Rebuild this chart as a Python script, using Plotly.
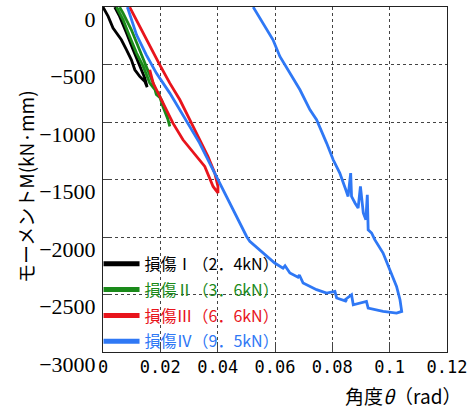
import plotly.graph_objects as go

# ---- data (rotation rad, moment kN·mm) ----
x_I = [0.0000, 0.0018, 0.0035, 0.0064, 0.0082, 0.0099, 0.0111, 0.0128, 0.0146, 0.0154,
       0.0146, 0.0128, 0.0105, 0.0082, 0.0058, 0.0041]
y_I = [0, -81, -183, -284, -371, -458, -545, -603, -647, -696,
       -618, -516, -371, -226, -81, 0]

x_II = [0.0047, 0.0070, 0.0093, 0.0117, 0.0140, 0.0163, 0.0186, 0.0204, 0.0221, 0.0233,
        0.0227, 0.0209, 0.0192, 0.0200, 0.0186, 0.0175, 0.0151, 0.0128, 0.0099, 0.0070, 0.0058]
y_II = [0, -110, -255, -400, -516, -661, -734, -806, -922, -1038,
        -980, -864, -734, -790, -760, -661, -516, -371, -197, -52, 0]

x_III = [0.0093, 0.0128, 0.0163, 0.0198, 0.0233, 0.0268, 0.0303, 0.0337, 0.0366, 0.0390,
         0.0401, 0.0401, 0.0384, 0.0355, 0.0340, 0.0314, 0.0279, 0.0244, 0.0215, 0.0192,
         0.0175, 0.0163]
y_III = [0, -168, -342, -502, -661, -806, -980, -1154, -1299, -1444,
         -1560, -1617, -1560, -1386, -1340, -1270, -1154, -1009, -864, -748,
         -661, -545]

x_IV = [0.0085, 0.0105, 0.0117, 0.0151, 0.0186, 0.0233, 0.0268, 0.0303, 0.0337, 0.0372,
        0.0401, 0.0431, 0.0466, 0.0501, 0.0512, 0.0558, 0.0599, 0.0628, 0.0635, 0.0652,
        0.0680, 0.0685, 0.0698, 0.0745, 0.0780, 0.0809, 0.0815, 0.0850, 0.0845, 0.0867,
        0.0873, 0.0919, 0.0925, 0.0977, 0.1024, 0.1042, 0.1036, 0.1024, 0.1001, 0.0977,
        0.0948, 0.0937, 0.0925, 0.0922, 0.0917, 0.0908, 0.0898, 0.0890, 0.0879, 0.0867,
        0.0864, 0.0855, 0.0847, 0.0826, 0.0803, 0.0780, 0.0745, 0.0722, 0.0687, 0.0652,
        0.0617, 0.0593, 0.0559, 0.0524]
y_IV = [0, -139, -241, -415, -574, -748, -893, -1038, -1183, -1357,
        -1502, -1654, -1821, -1995, -2038, -2139, -2226, -2270, -2250, -2313,
        -2350, -2330, -2400, -2458, -2487, -2473, -2530, -2560, -2545, -2502,
        -2589, -2560, -2618, -2647, -2661, -2647, -2545, -2430, -2284, -2139,
        -2023, -1965, -1937, -1632, -1850, -1791, -1560, -1748, -1704, -1647,
        -1444, -1647, -1589, -1444, -1328, -1183, -980, -893, -719, -574,
        -429, -284, -139, 0]

names = ["損傷Ⅰ（2．4kN）", "損傷Ⅱ（3．6kN）", "損傷Ⅲ（6．6kN）", "損傷Ⅳ（9．5kN）"]
colors = ["#000000", "#1a8a1a", "#e8141c", "#2f78f5"]

x_ticks = [0, 0.02, 0.04, 0.06, 0.08, 0.1, 0.12]
x_ticktext = ["0", "0.02", "0.04", "0.06", "0.08", "0.1", "0.12"]
y_ticks = [0, -500, -1000, -1500, -2000, -2500, -3000]
y_ticktext = ["0", "−500", "−1000", "−1500", "−2000", "−2500", "−3000"]

fig = go.Figure()
for i, (xs, ys) in enumerate([(x_I, y_I), (x_II, y_II), (x_III, y_III), (x_IV, y_IV)]):
    fig.add_trace(go.Scatter(
        x=xs, y=ys, mode="lines",
        name='<span style="color:%s">%s</span>' % (colors[i], names[i]),
        legendgroup="g%d" % i,
        line=dict(color=colors[i], width=2.8),
    ))

fig.update_layout(
    width=471, height=410,
    margin=dict(l=103, r=24, t=7, b=58, autoexpand=False),
    plot_bgcolor="white", paper_bgcolor="white",
    showlegend=True,
    legend=dict(
        x=-0.013, y=-0.02, xanchor="left", yanchor="bottom",
        bgcolor="rgba(0,0,0,0)", borderwidth=0,
        font=dict(family="Noto Sans CJK JP", size=16),
        tracegroupgap=2, itemsizing="constant", itemwidth=36,
    ),
    xaxis=dict(
        range=[0, 0.12], tickvals=x_ticks, ticktext=x_ticktext, automargin=False,
        showgrid=True, gridcolor="#444", griddash="dot", gridwidth=1,
        showline=True, linecolor="#222", linewidth=1, mirror=True,
        ticks="inside", ticklen=10, tickcolor="#444",
        tickfont=dict(family="DejaVu Sans Mono", size=17, color="black"),
        zeroline=False,
    ),
    yaxis=dict(
        range=[-3000, 1], tickvals=y_ticks, ticktext=y_ticktext, automargin=False,
        showgrid=True, gridcolor="#444", griddash="dot", gridwidth=1,
        showline=True, linecolor="#222", linewidth=1, mirror=True,
        ticks="inside", ticklen=8, tickcolor="#444",
        tickfont=dict(family="Liberation Sans Narrow", size=22, color="black"),
        ticklabelshift=12, ticklabelstandoff=2,
        zeroline=False,
    ),
    annotations=[
        dict(text="角度<i>θ</i>（rad）", xref="paper", yref="paper",
             x=(463 - 103) / 344, y=(352 - 395) / 345, xanchor="right", yanchor="middle",
             showarrow=False, font=dict(family="Noto Sans CJK JP", size=19, color="black")),
        dict(text="モーメントM(kN·mm)", xref="paper", yref="paper",
             x=(25 - 103) / 344, y=(352 - 187) / 345, xanchor="center", yanchor="middle",
             textangle=-90, showarrow=False,
             font=dict(family="Noto Sans CJK JP", size=19, color="black")),
    ],
)

fig.write_html(
    "out.html",
    config={"displayModeBar": False},
    post_script="document.body.style.margin='0';document.body.style.overflow='hidden';",
)
